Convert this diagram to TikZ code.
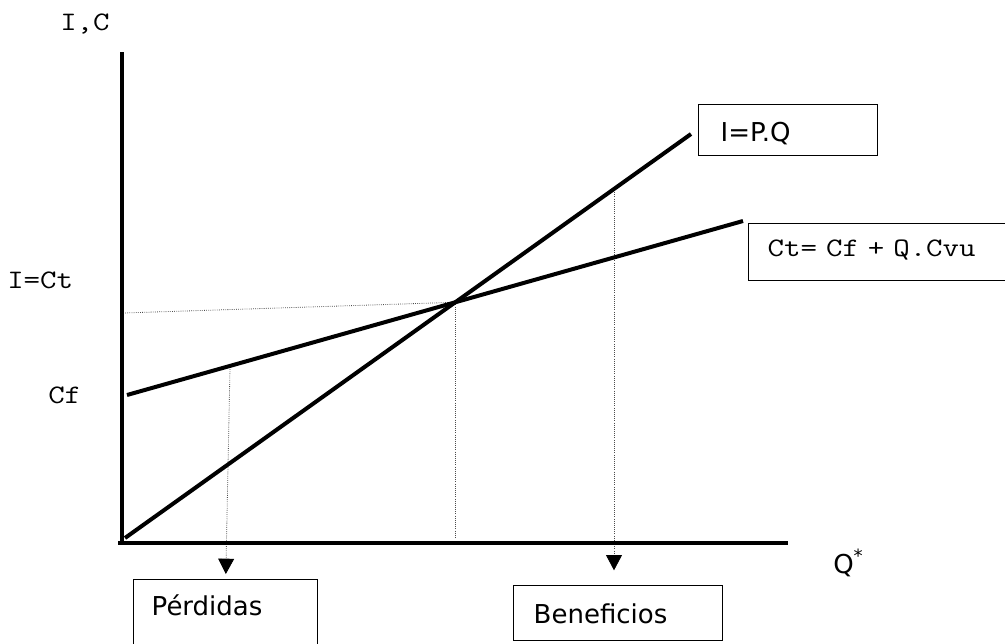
\documentclass[tikz,border=0pt]{standalone}
\usepackage{fontspec}
\setmainfont{DejaVu Sans}
\setmonofont[FakeStretch=1.2]{Latin Modern Mono}
\usetikzlibrary{arrows.meta}

\begin{document}
\begin{tikzpicture}[x=0.75pt,y=0.75pt,yscale=-1,xscale=1,
  axis/.style={line width=2.5pt},
  curve/.style={line width=3pt},
  guide/.style={densely dotted, line width=0.6pt, black!70},
  guidearrow/.style={guide, -{Triangle[width=12pt,length=11.5pt,fill=black,color=black]}},
  tag/.style={font=\ttfamily\fontsize{20}{22}\selectfont, inner sep=0pt, anchor=base west},
  formbox/.style={draw, line width=1.1pt, anchor=north west, inner ysep=0pt, align=left, font=\fontsize{19.5}{22}\selectfont}]
\useasboundingbox (0,0) rectangle (1005,643);

%points of the axes and lines
\coordinate (ytop) at (122,52);
\coordinate (o) at (122,542);
\coordinate (xleft) at (118,543);
\coordinate (xright) at (788,543);
\coordinate (rstart) at (125,538);
\coordinate (rend) at (691,134);
\coordinate (cstart) at (127,395);
\coordinate (cend) at (743,221);
\coordinate (be) at (intersection of rstart--rend and cstart--cend);
\coordinate (bey) at (123,313);
\coordinate (lossc) at (230,367);
\coordinate (gainc) at (614,190);

% boxes
\node[formbox, text width=101.25pt, inner xsep=16.5pt, text height=27.75pt, text depth=10.5pt] (ipq) at (698,104) {I=P.Q};
\node[formbox, font=\ttfamily\fontsize{20}{22}\selectfont, text width=183pt, inner xsep=14.25pt, text height=24.75pt, text depth=18pt] (ctbox) at (748,223) {Ct= Cf + Q.Cvu};
\node[formbox, text width=111pt, inner xsep=13.5pt, text height=27pt, text depth=37.5pt] (perd) at (133,579) {Pérdidas};
\node[formbox, text width=126.75pt, inner xsep=15pt, text height=28.5pt, text depth=12.75pt] (ben) at (513,585) {Beneficios};

% labels
\node[tag] (ic) at (60,30) {I,C};
\node[tag] (ict) at (7,288) {I=Ct};
\node[tag] (cf) at (48,403) {Cf};
\node[tag, font=\fontsize{19.5}{22}\selectfont] (qstar) at (833,573) {Q\textsuperscript{*}};

% dotted guides
\draw[guide] (bey) -- (be);
\draw[guide] (be) -- ([yshift=-3.75pt]be |- xleft);
\draw[guidearrow, shorten >=3.75pt] (lossc) -- (perd.north);
\draw[guidearrow, shorten >=11pt] (gainc) -- (gainc |- ben.north);

% lines
\draw[curve] (rstart) -- (rend);
\draw[curve] (cstart) -- (cend);

% axes
\draw[axis] (ytop) -- (o);
\draw[axis] (xleft) -- (xright);
\end{tikzpicture}
\end{document}
